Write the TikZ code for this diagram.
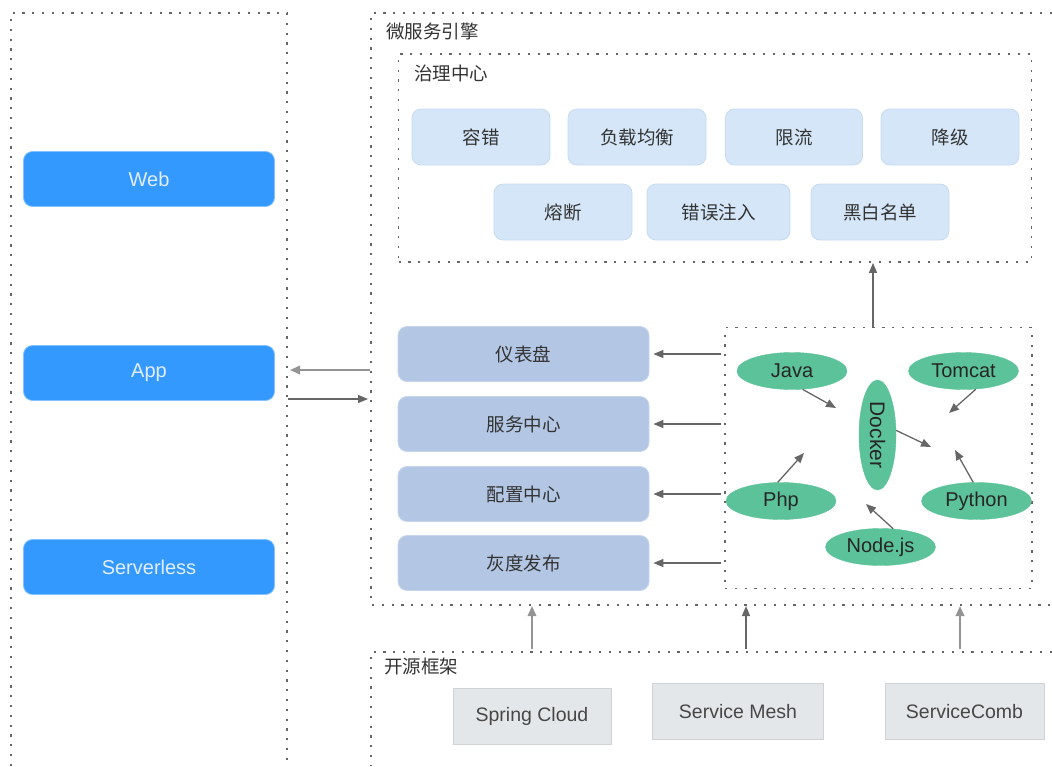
\documentclass[tikz,border=0pt]{standalone}
\usepackage{fontspec}
\setmainfont{Liberation Sans}
\newfontfamily\cjk{Noto Sans CJK SC}
\usetikzlibrary{arrows.meta,shapes.geometric,calc}
\definecolor{dotc}{HTML}{666666}
\definecolor{blu}{HTML}{3399FF}
\definecolor{blutext}{HTML}{E2EEFF}
\definecolor{govfill}{HTML}{D4E6F7}
\definecolor{govline}{HTML}{C6DAF0}
\definecolor{leftfill}{HTML}{B3C7E5}
\definecolor{leftline}{HTML}{C5D5EC}
\definecolor{grn}{HTML}{5CC29A}
\definecolor{grayfill}{HTML}{E4E7E9}
\definecolor{grayline}{HTML}{D0D3D5}
\definecolor{txt}{HTML}{333333}
\definecolor{arrc}{HTML}{666666}
\begin{document}
\begin{tikzpicture}[x=1pt,y=-1pt,
  dotbox/.style={draw=dotc, line width=1.8pt, dash pattern=on 2.2pt off 7.6pt},
  bluebox/.style={fill=blu, draw=blu!60, line width=0.8pt, rounded corners=9pt, minimum width=251pt, minimum height=55pt, inner sep=0pt, text=blutext, font=\fontsize{20}{24}\selectfont},
  govbox/.style={fill=govfill, draw=govline, line width=0.8pt, rounded corners=9pt, minimum height=56pt, inner sep=0pt, text=txt, font=\cjk\fontsize{18.5}{22}\selectfont},
  leftbox/.style={fill=leftfill, draw=leftline, line width=0.8pt, rounded corners=9pt, minimum width=251pt, minimum height=55pt, inner sep=0pt, text=txt, font=\cjk\fontsize{18.5}{22}\selectfont},
  grbox/.style={fill=grayfill, draw=grayline, line width=0.8pt, minimum height=56pt, inner sep=0pt, text=txt!90, font=\fontsize{19.5}{23}\selectfont},
  ell/.style={ellipse, fill=grn, draw=grn, inner sep=0pt, minimum width=110pt, minimum height=37pt, text=black!85, font=\fontsize{20}{24}\selectfont},
  title/.style={anchor=west, inner sep=0pt, text=txt, font=\cjk\fontsize{18.5}{22}\selectfont},
  arr/.style={draw=arrc, line width=1.3pt, -{Triangle[length=10pt,width=8pt]}},
  arrl/.style={draw=arrc!70, line width=2pt, -{Triangle[length=10pt,width=8.5pt]}}
]
\useasboundingbox (0,0) rectangle (1052,766);

% left column frame
\draw[dotbox] (11,766) -- (11,13) -- (287,13) -- (287,766);
\node[bluebox] (web) at (149,179) {Web};
\node[bluebox] (app) at (149,373) {App};
\node[bluebox] (srv) at (149,567) {Serverless};

% microservice engine frame
\draw[dotbox] (1052,13) -- (371,13) -- (371,605) -- (1052,605);
\node[title] (engt) at (386,31) {微服务引擎};

% governance center
\node[dotbox, minimum width=633pt, minimum height=208pt, inner sep=0pt] (gov) at (715,158) {};
\node[title] (govt) at (414,73) {治理中心};
\node[govbox, minimum width=138pt] (g1) at (481,137) {容错};
\node[govbox, minimum width=138pt] (g2) at (637,137) {负载均衡};
\node[govbox, minimum width=137pt] (g3) at (794,137) {限流};
\node[govbox, minimum width=138pt] (g4) at (950,137) {降级};
\node[govbox, minimum width=138pt] (g5) at (563,212) {熔断};
\node[govbox, minimum width=143pt] (g6) at (718.5,212) {错误注入};
\node[govbox, minimum width=138pt] (g7) at (880,212) {黑白名单};

% left boxes
\node[leftbox] (b1) at (523.5,354) {仪表盘};
\node[leftbox] (b2) at (523.5,424) {服务中心};
\node[leftbox] (b3) at (523.5,494) {配置中心};
\node[leftbox] (b4) at (523.5,563) {灰度发布};

% docker area
\node[dotbox, minimum width=307pt, minimum height=261pt, inner sep=0pt] (dk) at (878.5,458) {};
\node[ell] (java) at (792,371) {Java};
\node[ell] (tomcat) at (963.5,371) {Tomcat};
\node[ell, minimum width=37pt, minimum height=110pt] (docker) at (877.5,435) {\rotatebox{-90}{\fontsize{21}{24}\selectfont Docker}};
\node[ell] (php) at (781,501) {Php};
\node[ell] (python) at (976.5,501) {Python};
\node[ell] (nodejs) at (880.5,547) {Node.js};

\coordinate (tj) at (836,408);
\coordinate (tt) at (949,413);
\coordinate (td) at (931,447);
\coordinate (tp) at (804,453);
\coordinate (ty) at (955,450);
\coordinate (tn) at (866,504);
\draw[arr] (java.-60) -- (tj);
\draw[arr] (tomcat.-56) -- (tt);
\draw[arr] (docker.14) -- (td);
\draw[arr] (php.100) -- (tp);
\draw[arr] (python.100) -- (ty);
\draw[arr] (nodejs.55) -- (tn);

% docker area -> governance
\coordinate (dtop) at (873,328);
\draw[arr] (dtop) -- (dtop |- gov.south);

% docker area -> left boxes
\foreach \b in {b1,b2,b3,b4}{
  \draw[arr, shorten <=3pt, shorten >=4pt] (dk.west |- \b.east) -- (\b.east);
}

% client <-> engine
\coordinate (a1s) at (370,370);
\coordinate (a1e) at (290,370);
\coordinate (a2s) at (288,399);
\coordinate (a2e) at (368,399);
\draw[arrl] (a1s) -- (a1e);
\draw[arr] (a2s) -- (a2e);

% open source frameworks
\draw[dotbox] (1052,652) -- (371,652) -- (371,766);
\node[title] (ost) at (384,666) {开源框架};
\node[grbox, minimum width=158pt] (sc) at (532,716) {Spring Cloud};
\node[grbox, minimum width=171pt] (sm) at (738,711.5) {Service Mesh};
\node[grbox, minimum width=159pt] (cb) at (964.5,711.5) {ServiceComb};

\coordinate (u1s) at (532,649);
\coordinate (u1e) at (532,606);
\coordinate (u2s) at (746,649);
\coordinate (u2e) at (746,606);
\coordinate (u3s) at (960,649);
\coordinate (u3e) at (960,606);
\draw[arrl] (u1s) -- (u1e);
\draw[arr] (u2s) -- (u2e);
\draw[arrl] (u3s) -- (u3e);
\end{tikzpicture}
\end{document}
